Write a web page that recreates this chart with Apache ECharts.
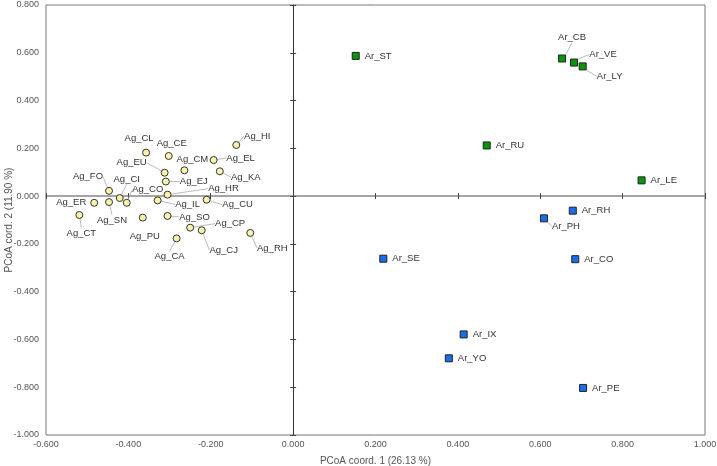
<!DOCTYPE html>
<html>
<head>
<meta charset="utf-8">
<title>PCoA</title>
<script src="https://cdn.jsdelivr.net/npm/echarts@6/dist/echarts.min.js"></script>
<style>
html, body { margin: 0; padding: 0; background: #fff; }
#main { width: 717px; height: 466px; }
</style>
</head>
<body>
<div id="main"></div>
<script>
// Ag group (yellow circles)
var agNames = ['Ag_HI','Ag_CL','Ag_CE','Ag_EL','Ag_CM','Ag_EU','Ag_KA','Ag_EJ','Ag_FO','Ag_HR','Ag_CI','Ag_CO',
	'Ag_ER','Ag_SN','Ag_IL','Ag_CU','Ag_CT','Ag_SO','Ag_PU','Ag_CP','Ag_CJ','Ag_CA','Ag_RH'];
var agX = [-0.138,-0.357,-0.302,-0.193,-0.264,-0.312,-0.178,-0.309,-0.447,-0.305,-0.421,-0.404,
	-0.483,-0.447,-0.329,-0.210,-0.519,-0.305,-0.365,-0.250,-0.222,-0.283,-0.104];
var agY = [0.214,0.182,0.168,0.151,0.108,0.098,0.104,0.061,0.022,0.006,-0.008,-0.028,
	-0.028,-0.025,-0.018,-0.015,-0.079,-0.083,-0.090,-0.132,-0.143,-0.177,-0.154];
// Ar group, green squares
var arGreenNames = ['Ar_ST','Ar_CB','Ar_VE','Ar_LY','Ar_RU','Ar_LE'];
var arGreenX = [0.152,0.653,0.682,0.703,0.470,0.846];
var arGreenY = [0.587,0.576,0.559,0.543,0.212,0.066];
// Ar group, blue squares
var arBlueNames = ['Ar_RH','Ar_PH','Ar_SE','Ar_CO','Ar_IX','Ar_YO','Ar_PE'];
var arBlueX = [0.679,0.609,0.219,0.685,0.414,0.378,0.704];
var arBlueY = [-0.061,-0.093,-0.262,-0.264,-0.579,-0.679,-0.803];
// axes
var xRange = [-0.6, 1.0], yRange = [-1.0, 0.8], step = 0.2;
var xTitle = 'PCoA coord. 1 (26.13 %)', yTitle = 'PCoA cord. 2 (11.90 %)';

// label placement (label centre minus point centre, px); lined = draw leader line
var labelOff = {
	Ag_HI:[21,-9], Ag_CL:[-7,-14], Ag_CE:[3,-13], Ag_EL:[27,-2], Ag_CM:[8,-11], Ag_EU:[-33,-10],
	Ag_KA:[26,6], Ag_EJ:[28,0], Ag_FO:[-21,-14], Ag_CI:[7,-19], Ag_CO:[21,-13], Ag_HR:[56,-6],
	Ag_ER:[-23,0], Ag_SN:[3,18], Ag_IL:[30,4], Ag_CU:[31,5], Ag_CT:[2,18], Ag_SO:[27,1],
	Ag_PU:[2,19], Ag_CP:[40,-4], Ag_CJ:[22,20], Ag_CA:[-7,18], Ag_RH:[22,15],
	Ar_CB:[10,-21], Ar_VE:[29,-8], Ar_LY:[27,10], Ar_PH:[22,8]
};
var noLine = ['Ag_CL','Ag_CE','Ag_CM','Ag_ER','Ag_PU'];

function makeData(names, xs, ys){
	var arr = [];
	for(var i = 0; i < names.length; i++){
		var item = {name: names[i], value: [xs[i], ys[i]]};
		if(labelOff[names[i]] && noLine.indexOf(names[i]) < 0){
			item.labelLine = {show: true};
		}
		arr.push(item);
	}
	return arr;
}

function placeLabel(params){
	var off = labelOff[params.text];
	if(!off) return {};
	var r = params.rect;
	return {
		x: r.x + r.width / 2 + off[0],
		y: r.y + r.height / 2 + off[1],
		align: 'center',
		verticalAlign: 'middle'
	};
}

function fmt(v){
	if(Math.abs(v) < 1e-9) v = 0;
	return v.toFixed(3);
}

var font = 'Liberation Sans, Arial, sans-serif';
var labelStyle = {
	show: true,
	position: 'right',
	distance: 5,
	formatter: '{b}',
	fontFamily: font,
	fontSize: 9.5,
	color: '#333'
};
var lineStyle = {show: false, lineStyle: {color: '#aaa', width: 0.8}};

var myChart = echarts.init(document.getElementById('main'));
var option = {
	animation: false,
	grid: {
		left: 46, right: 12, top: 5, bottom: 31,
		containLabel: false,
		outerBoundsMode: 'none',
		show: true,
		borderColor: '#777',
		borderWidth: 1
	},
	xAxis: [{
		type: 'value', min: xRange[0], max: xRange[1], interval: step,
		position: 'bottom',
		axisLine: {show: false, onZero: false},
		axisTick: {show: false},
		splitLine: {show: false},
		axisLabel: {formatter: fmt, color: '#555', fontSize: 9, margin: 5, fontFamily: font},
		name: xTitle, nameLocation: 'middle', nameGap: 21, nameMoveOverlap: false,
		nameTextStyle: {color: '#555', fontSize: 10, fontFamily: font}
	},{
		type: 'value', min: xRange[0], max: xRange[1], interval: step,
		position: 'bottom',
		axisLine: {show: true, onZero: true, lineStyle: {color: '#888', width: 1.5}},
		axisTick: {show: true, inside: true, length: 3, lineStyle: {color: '#444'}},
		axisLabel: {show: false},
		splitLine: {show: false}
	},{
		type: 'value', min: xRange[0], max: xRange[1], interval: step,
		position: 'bottom',
		axisLine: {show: false, onZero: true},
		axisTick: {show: true, inside: false, length: 3, lineStyle: {color: '#444'}},
		axisLabel: {show: false},
		splitLine: {show: false}
	}],
	yAxis: [{
		type: 'value', min: yRange[0], max: yRange[1], interval: step,
		position: 'left',
		axisLine: {show: false, onZero: false},
		axisTick: {show: false},
		splitLine: {show: false},
		axisLabel: {formatter: fmt, color: '#555', fontSize: 9, margin: 7, fontFamily: font},
		name: yTitle, nameLocation: 'middle', nameGap: 32, nameMoveOverlap: false,
		nameTextStyle: {color: '#555', fontSize: 10, fontFamily: font}
	},{
		type: 'value', min: yRange[0], max: yRange[1], interval: step,
		position: 'left',
		axisLine: {show: true, onZero: true, lineStyle: {color: '#333', width: 1}},
		axisTick: {show: true, inside: true, length: 3, lineStyle: {color: '#444'}},
		axisLabel: {show: false},
		splitLine: {show: false}
	},{
		type: 'value', min: yRange[0], max: yRange[1], interval: step,
		position: 'left',
		axisLine: {show: false, onZero: true},
		axisTick: {show: true, inside: false, length: 3, lineStyle: {color: '#444'}},
		axisLabel: {show: false},
		splitLine: {show: false}
	}],
	series: [{
		name: 'Ag',
		type: 'scatter',
		symbol: 'circle',
		symbolSize: 7,
		itemStyle: {color: '#f7f2ac', borderColor: '#333', borderWidth: 1, opacity: 1},
		label: labelStyle,
		labelLine: lineStyle,
		labelLayout: placeLabel,
		data: makeData(agNames, agX, agY)
	},{
		name: 'Ar green',
		type: 'scatter',
		symbol: 'rect',
		symbolSize: 7,
		itemStyle: {color: '#0a960a', borderColor: '#222', borderWidth: 1, opacity: 1},
		label: labelStyle,
		labelLine: lineStyle,
		labelLayout: placeLabel,
		data: makeData(arGreenNames, arGreenX, arGreenY)
	},{
		name: 'Ar blue',
		type: 'scatter',
		symbol: 'rect',
		symbolSize: 7,
		itemStyle: {color: '#1a6ee8', borderColor: '#222', borderWidth: 1, opacity: 1},
		label: labelStyle,
		labelLine: lineStyle,
		labelLayout: placeLabel,
		data: makeData(arBlueNames, arBlueX, arBlueY)
	}]
};
myChart.setOption(option);
</script>
</body>
</html>
